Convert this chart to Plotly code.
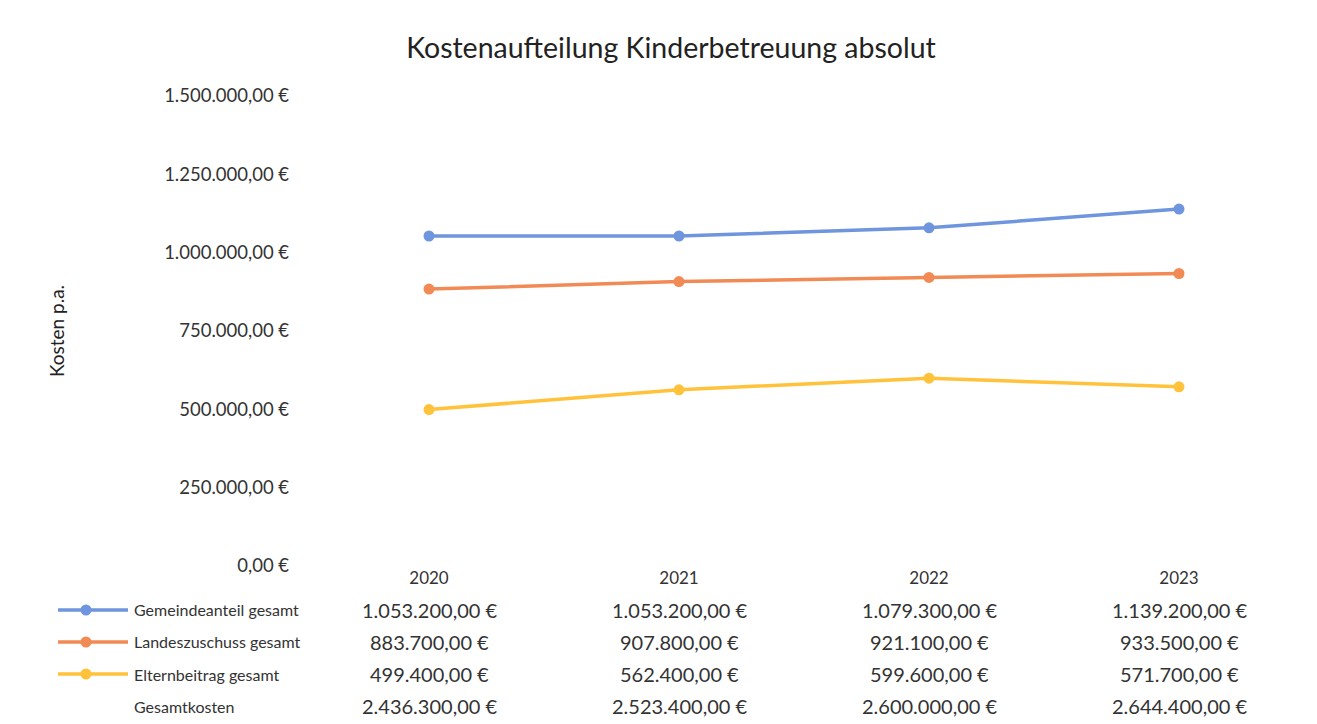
import plotly.graph_objects as go

years = ["2020", "2021", "2022", "2023"]
gemeinde = [1053200, 1053200, 1079300, 1139200]
landes = [883700, 907800, 921100, 933500]
eltern = [499400, 562400, 599600, 571700]
gesamt = [2436300, 2523400, 2600000, 2644400]

series_names = ["Gemeindeanteil gesamt", "Landeszuschuss gesamt", "Elternbeitrag gesamt"]
series_values = [gemeinde, landes, eltern]
colors = ["#6E95DD", "#F28A55", "#FFC23A"]

FONT = "Lato"
TXT = "#333333"
FS = 17


def fmt(v):
    s = f"{v:,.2f}"
    return s.replace(",", "X").replace(".", ",").replace("X", ".") + "\u202f€"


fig = go.Figure()
for name, vals, col in zip(series_names, series_values, colors):
    fig.add_trace(go.Scatter(
        x=years, y=vals, name=name, mode="lines+markers",
        line=dict(color=col, width=3.5),
        marker=dict(color=col, size=11),
        showlegend=False,
    ))

# data table below the chart (columns at the category positions of the x axis)
row_y = [-0.0936, -0.1617, -0.2298, -0.2979]
row_labels = series_names + ["Gesamtkosten"]
row_values = series_values + [gesamt]
for ry, lab, vals in zip(row_y, row_labels, row_values):
    fig.add_annotation(x=-0.172, y=ry, xref="paper", yref="paper", text=lab,
                       showarrow=False, xanchor="left", yanchor="middle",
                       font=dict(family=FONT, size=16, color=TXT))
    for i, v in enumerate(vals):
        fig.add_annotation(x=i, y=ry, xref="x", yref="paper", text=fmt(v),
                           showarrow=False, xanchor="center", yanchor="middle",
                           font=dict(family=FONT, size=20, color=TXT))

# legend keys
for ry, col in zip(row_y[:3], colors):
    fig.add_shape(type="line", xref="paper", yref="paper",
                  x0=-0.246, x1=-0.176, y0=ry, y1=ry,
                  line=dict(color=col, width=3.5))
    fig.add_shape(type="circle", xref="paper", yref="paper",
                  x0=-0.2235, x1=-0.2125, y0=ry - 0.0117, y1=ry + 0.0117,
                  fillcolor=col, line=dict(color=col, width=0))

W, H = 1309, 716
fig.update_layout(
    width=W, height=H,
    margin=dict(l=296, r=13, t=88, b=158, autoexpand=False),
    paper_bgcolor="white", plot_bgcolor="white",
    separators=",.",
    title=dict(text="Kostenaufteilung Kinderbetreuung absolut",
               x=663 / W, xref="container", xanchor="center",
               y=1 - 40 / H, yref="container", yanchor="middle",
               font=dict(family=FONT, size=28.5, color="#222222")),
    font=dict(family=FONT, size=FS, color=TXT),
    showlegend=False,
)
fig.update_xaxes(type="category", range=[-0.5, 3.5],
                 showgrid=False, showline=False, zeroline=False, ticks="",
                 tickfont=dict(family=FONT, size=FS, color=TXT))
fig.update_yaxes(range=[0, 1500000], dtick=250000, tickformat=",.2f",
                 ticksuffix="\u202f€", showgrid=False, zeroline=False,
                 showline=False, ticks="", ticklabelstandoff=14,
                 tickfont=dict(family=FONT, size=18.5, color=TXT),
                 title=dict(text="Kosten p.a.", standoff=94,
                            font=dict(family=FONT, size=19, color="#222222")))

fig.write_html("out.html")
